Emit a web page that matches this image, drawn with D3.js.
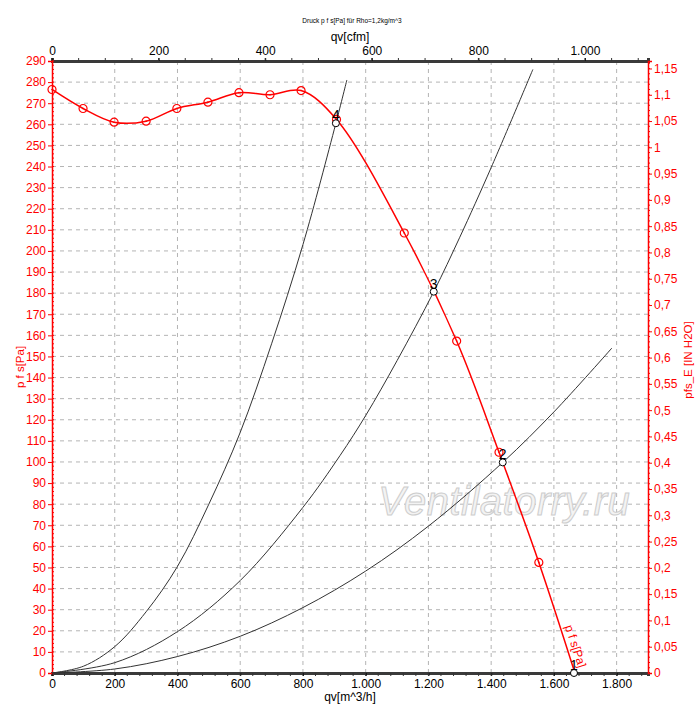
<!DOCTYPE html>
<html>
<head>
<meta charset="utf-8">
<script src="https://cdn.jsdelivr.net/npm/d3@7"></script>
<style>
  body { margin: 0; background: #fff; }
  #chart { width: 700px; height: 723px; }
  text { font-family: "Liberation Sans", Arial, sans-serif; }
</style>
</head>
<body>
<div id="chart"></div>
<script>
// fan curve p f s [Pa] over qv [m^3/h]
const fanFlow = [0, 99, 198, 300, 398, 497, 596, 695, 794, 907, 1123, 1290, 1425, 1552, 1667];
const fanPressure = [276.5, 267.5, 261, 261.5, 267.5, 270.5, 275, 274, 276, 262.3, 208.5, 157.3, 104.6, 52.4, 0];

// system curves
const sysAFlow = [0, 100, 200, 300, 400, 500, 600, 700, 800, 905, 940];
const sysAPressure = [0, 3.2, 12.5, 29, 50.5, 80, 114, 156, 203, 260.5, 281];
const sysBFlow = [0, 200, 400, 600, 800, 918, 1000, 1100, 1217, 1300, 1400, 1533];
const sysBPressure = [0, 4.9, 19.6, 43.8, 78.5, 103, 122, 148, 180.7, 206.5, 239.5, 286];
const sysCFlow = [0, 200, 400, 600, 800, 1000, 1200, 1437, 1600, 1785];
const sysCPressure = [0, 1.9, 7.8, 17.4, 31, 48.3, 69.6, 99.8, 123.7, 154];

// operating points
const opLabels = ["1", "2", "3", "4"];
const opFlow = [1664, 1437, 1217, 905];
const opPressure = [0, 99.8, 180.7, 260.5];

// axes
const flowTicks = [0, 200, 400, 600, 800, 1000, 1200, 1400, 1600, 1800];
const cfmTicks = [0, 200, 400, 600, 800, 1000];
const paTicks = d3.range(0, 291, 10);
const inchTicks = d3.range(0, 24).map(i => i * 0.05);

const width = 700, height = 723;
const plotLeft = 52, plotRight = 648, plotTop = 61, plotBottom = 673;

const de = d3.formatLocale({ decimal: ",", thousands: ".", grouping: [3], currency: ["", "€"] });
const fmtInt = de.format(",d");
const fmtInch = v => de.format(".2~f")(v);

const svg = d3.select('#chart')
  .append('svg')
  .attr('width', width)
  .attr('height', height);

const x = d3.scaleLinear().domain([0, 1900]).range([plotLeft, plotRight]);
const y = d3.scaleLinear().domain([0, 290]).range([plotBottom, plotTop]);
// 1 cfm = 1.699 m^3/h, 1 inH2O = 249.09 Pa
const xCfm = d3.scaleLinear().domain([0, 1900 / 1.699]).range([plotLeft, plotRight]);
const yInch = d3.scaleLinear().domain([0, 290 / 249.09]).range([plotBottom, plotTop]);

// grid
const grid = svg.append('g').attr('stroke', '#b4b4b4').attr('stroke-dasharray', '4,4');
grid.selectAll('line.h')
  .data(paTicks.slice(1))
  .enter()
  .append('line')
  .attr('x1', plotLeft).attr('x2', plotRight)
  .attr('y1', d => y(d)).attr('y2', d => y(d));
grid.selectAll('line.v')
  .data(flowTicks.slice(1))
  .enter()
  .append('line')
  .attr('y1', plotTop).attr('y2', plotBottom)
  .attr('x1', d => x(d)).attr('x2', d => x(d));

// watermark
svg.append('text')
  .attr('x', x(1040))
  .attr('y', y(75))
  .style('font-size', '40px')
  .style('font-style', 'italic')
  .style('fill', '#f3f3f3')
  .style('stroke', '#cdcdcd')
  .style('stroke-width', 1)
  .style('letter-spacing', '0.5px')
  .text('Ventilatorry.ru');

// bottom axis
const xAxis = svg.append('g')
  .attr('transform', `translate(0,${plotBottom})`)
  .call(d3.axisBottom(x).tickValues(flowTicks).tickFormat(fmtInt).tickSize(3));
xAxis.append('g').selectAll('line')
  .data(d3.range(0, 1900, 40))
  .enter()
  .append('line')
  .attr('x1', d => x(d)).attr('x2', d => x(d))
  .attr('y1', 0).attr('y2', 3)
  .attr('stroke', '#333');

// top axis
const topAxis = svg.append('g')
  .attr('transform', `translate(0,${plotTop})`)
  .call(d3.axisTop(xCfm).tickValues(cfmTicks).tickFormat(fmtInt).tickSize(3));
topAxis.append('g').selectAll('line')
  .data(d3.range(0, 1118, 50))
  .enter()
  .append('line')
  .attr('x1', d => xCfm(d)).attr('x2', d => xCfm(d))
  .attr('y1', 0).attr('y2', -3)
  .attr('stroke', '#333');

[xAxis, topAxis].forEach(a => {
  a.select('.domain').attr('stroke', '#3a3a3a').attr('stroke-width', 3);
  a.selectAll('.tick text').style('font-size', '12px').style('fill', '#000');
});

// left axis
const yAxis = svg.append('g')
  .attr('transform', `translate(${plotLeft},0)`)
  .call(d3.axisLeft(y).tickValues(paTicks).tickSize(4).tickPadding(2));
yAxis.append('g').selectAll('line')
  .data(d3.range(0, 291, 2))
  .enter()
  .append('line')
  .attr('y1', d => y(d)).attr('y2', d => y(d))
  .attr('x1', 0).attr('x2', 2)
  .attr('stroke', 'red');

// right axis
const yAxisR = svg.append('g')
  .attr('transform', `translate(${plotRight},0)`)
  .call(d3.axisRight(yInch).tickValues(inchTicks).tickFormat(fmtInch).tickSize(4).tickPadding(2));
yAxisR.append('g').selectAll('line')
  .data(d3.range(0, 117).map(i => i * 0.01))
  .enter()
  .append('line')
  .attr('y1', d => yInch(d)).attr('y2', d => yInch(d))
  .attr('x1', 0).attr('x2', 2)
  .attr('stroke', 'red');

[yAxis, yAxisR].forEach(a => {
  a.select('.domain').attr('stroke', 'red').attr('stroke-width', 1.5);
  a.selectAll('.tick line').attr('stroke', 'red');
  a.selectAll('.tick text').style('font-size', '12px').style('fill', 'red');
});

// axis titles
svg.append('text')
  .attr('x', 352).attr('y', 23)
  .attr('text-anchor', 'middle')
  .style('font-size', '6.5px')
  .text('Druck p f s[Pa] für Rho=1,2kg/m^3');
svg.append('text')
  .attr('x', 350).attr('y', 41)
  .attr('text-anchor', 'middle')
  .style('font-size', '12px')
  .text('qv[cfm]');
svg.append('text')
  .attr('x', 350).attr('y', 701)
  .attr('text-anchor', 'middle')
  .style('font-size', '12px')
  .text('qv[m^3/h]');
svg.append('text')
  .attr('transform', 'translate(24,367) rotate(-90)')
  .attr('text-anchor', 'middle')
  .style('font-size', '11.5px')
  .style('fill', 'red')
  .text('p f s[Pa]');
svg.append('text')
  .attr('transform', 'translate(692,360) rotate(-90)')
  .attr('text-anchor', 'middle')
  .style('font-size', '11.5px')
  .style('fill', 'red')
  .text('pfs_E [IN H2O]');

// system curves
const curveLine = d3.line()
  .x(d => x(d[0]))
  .y(d => y(d[1]))
  .curve(d3.curveCatmullRom);

[[sysAFlow, sysAPressure], [sysBFlow, sysBPressure], [sysCFlow, sysCPressure]].forEach(([q, p]) => {
  svg.append('path')
    .datum(d3.zip(q, p))
    .attr('d', curveLine)
    .attr('fill', 'none')
    .attr('stroke', '#333')
    .attr('stroke-width', 1);
});

// fan curve
const fanData = d3.zip(fanFlow, fanPressure);
svg.append('path')
  .datum(fanData)
  .attr('d', curveLine)
  .attr('fill', 'none')
  .attr('stroke', 'red')
  .attr('stroke-width', 1.5);

const markers = svg.append('g')
  .selectAll('g')
  .data(fanData.slice(0, -1))
  .enter()
  .append('g')
  .attr('transform', d => `translate(${x(d[0])},${y(d[1])})`);
markers.append('circle')
  .attr('r', 4)
  .attr('fill', 'none')
  .attr('stroke', 'red')
  .attr('stroke-width', 1.2);
markers.append('circle')
  .attr('r', 0.8)
  .attr('fill', 'red');

// curve label along the fan line
svg.append('text')
  .attr('transform', `translate(${x(1635)},${y(22)}) rotate(72)`)
  .style('font-size', '12px')
  .style('fill', 'red')
  .text('p f s[Pa]');

// operating points
const ops = svg.append('g')
  .selectAll('g')
  .data(d3.zip(opLabels, opFlow, opPressure))
  .enter()
  .append('g')
  .attr('transform', d => `translate(${x(d[1])},${y(d[2])})`);
ops.append('circle')
  .attr('r', 3.5)
  .attr('fill', '#fff')
  .attr('stroke', '#000')
  .attr('stroke-width', 1);
ops.append('text')
  .attr('y', -3)
  .attr('text-anchor', 'middle')
  .style('font-size', '14px')
  .text(d => d[0]);
</script>
</body>
</html>
